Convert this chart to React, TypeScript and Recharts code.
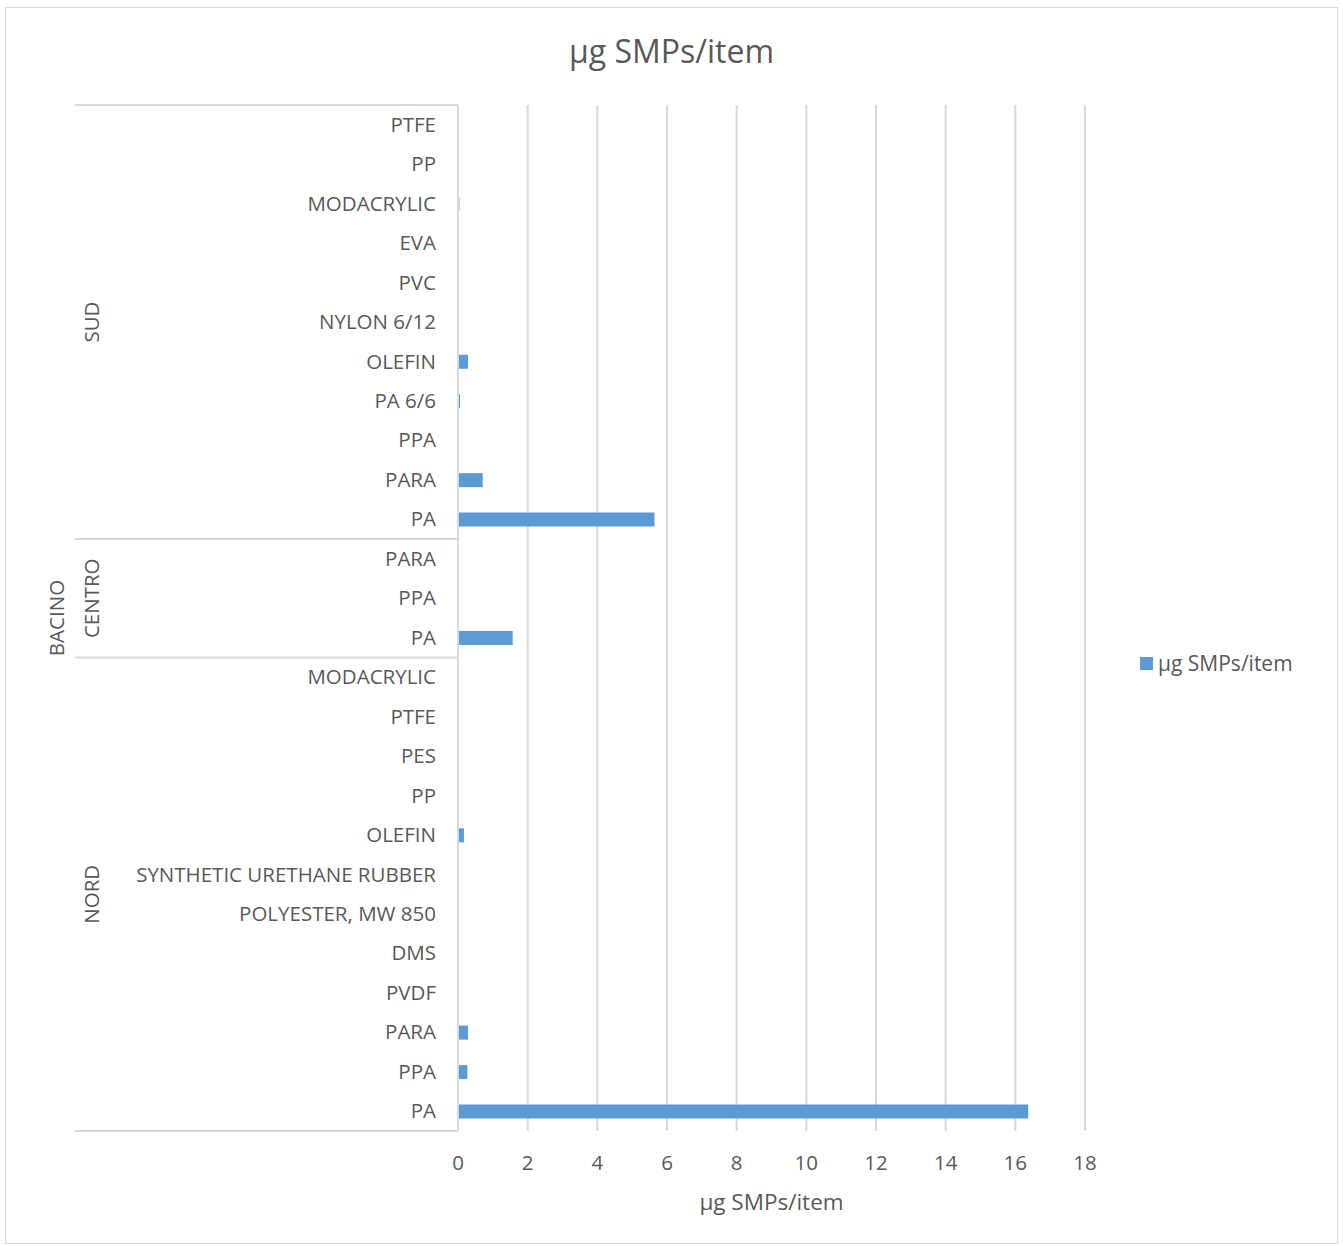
import { BarChart, Bar, XAxis, YAxis, CartesianGrid } from 'recharts';

const SERIES_NAME = 'µg SMPs/item';

const GROUP_NAMES = ['SUD', 'CENTRO', 'NORD'];

const SUD_POLYMERS = ['PTFE', 'PP', 'MODACRYLIC', 'EVA', 'PVC', 'NYLON 6/12', 'OLEFIN', 'PA 6/6', 'PPA', 'PARA', 'PA'];
const SUD_VALUES = [0, 0, 0.04, 0, 0.02, 0, 0.29, 0.06, 0.02, 0.71, 5.64];

const CENTRO_POLYMERS = ['PARA', 'PPA', 'PA'];
const CENTRO_VALUES = [0, 0, 1.57];

const NORD_POLYMERS = [
    'MODACRYLIC',
    'PTFE',
    'PES',
    'PP',
    'OLEFIN',
    'SYNTHETIC URETHANE RUBBER',
    'POLYESTER, MW 850',
    'DMS',
    'PVDF',
    'PARA',
    'PPA',
    'PA',
];
const NORD_VALUES = [0, 0.01, 0.02, 0, 0.17, 0, 0, 0, 0, 0.29, 0.27, 16.37];

const X_TICKS = [0, 2, 4, 6, 8, 10, 12, 14, 16, 18];

type Row = { key: string; group: string; polymer: string; value: number };

const groups = [
    { name: GROUP_NAMES[0], polymers: SUD_POLYMERS, values: SUD_VALUES },
    { name: GROUP_NAMES[1], polymers: CENTRO_POLYMERS, values: CENTRO_VALUES },
    { name: GROUP_NAMES[2], polymers: NORD_POLYMERS, values: NORD_VALUES },
];

const rows: Row[] = groups.flatMap((g) =>
    g.polymers.map((p, i) => ({ key: `${g.name}|${p}`, group: g.name, polymer: p, value: g.values[i] })),
);

// start index and size of each group, used to place separators and group labels
const groupSpans = groups.map((g, gi) => ({
    name: g.name,
    start: groups.slice(0, gi).reduce((s, x) => s + x.polymers.length, 0),
    size: g.polymers.length,
}));

const FONT = '"Open Sans", sans-serif';
const TEXT = '#595959';
const LINE = '#d9d9d9';
const BAR = '#5b9bd5';
const LABEL_SIZE = 20.5;

const W = 1331;
const H = 1235;
const PLOT_LEFT = 452;
const PLOT_TOP = 97;
const PLOT_RIGHT = 1079;
const PLOT_BOTTOM = 1123;
const ROW_H = (PLOT_BOTTOM - PLOT_TOP) / rows.length;

function CategoryTick(props: any) {
    const { y, payload, index } = props;
    const row = rows[index] ?? rows.find((r) => r.key === payload.value);
    const parts: any[] = [];
    parts.push(
        <text key="t" x={PLOT_LEFT - 22} y={y} dy={7} textAnchor="end" fill={TEXT} fontSize={LABEL_SIZE} fontFamily={FONT}>
            {row?.polymer}
        </text>,
    );
    const span = groupSpans.find((s) => s.start === index);
    if (span) {
        parts.push(<line key="l" x1={69} x2={PLOT_LEFT} y1={y - ROW_H / 2} y2={y - ROW_H / 2} stroke={LINE} strokeWidth={2} />);
        const cy = y - ROW_H / 2 + (span.size * ROW_H) / 2;
        parts.push(
            <text
                key="g"
                x={86}
                y={cy}
                dy={7}
                transform={`rotate(-90 86 ${cy})`}
                textAnchor="middle"
                fill={TEXT}
                fontSize={LABEL_SIZE}
                fontFamily={FONT}
            >
                {span.name}
            </text>,
        );
    }
    if (index === rows.length - 1) {
        parts.push(<line key="b" x1={69} x2={PLOT_LEFT} y1={y + ROW_H / 2} y2={y + ROW_H / 2} stroke={LINE} strokeWidth={2} />);
    }
    if (index === 0) {
        const cy = (PLOT_TOP + PLOT_BOTTOM) / 2;
        parts.push(
            <text
                key="o"
                x={51}
                y={cy}
                dy={7}
                transform={`rotate(-90 51 ${cy})`}
                textAnchor="middle"
                fill={TEXT}
                fontSize={LABEL_SIZE}
                fontFamily={FONT}
            >
                BACINO
            </text>,
        );
    }
    return <g>{parts}</g>;
}

function ValueTick(props: any) {
    const { x, payload } = props;
    return (
        <text x={x} y={PLOT_BOTTOM + 39} textAnchor="middle" fill={TEXT} fontSize={LABEL_SIZE} fontFamily={FONT}>
            {payload.value}
        </text>
    );
}

export default function App() {
    return (
        <div
            style={{
                position: 'absolute',
                left: 5,
                top: 7,
                width: W,
                height: H,
                border: `1px solid ${LINE}`,
                background: '#fff',
                fontFamily: FONT,
            }}
        >
            <div
                style={{
                    position: 'absolute',
                    left: 0,
                    width: W,
                    top: 23,
                    textAlign: 'center',
                    fontSize: 32,
                    color: TEXT,
                    lineHeight: '40px',
                }}
            >
                {SERIES_NAME}
            </div>
            <BarChart
                width={W}
                height={H}
                data={rows}
                layout="vertical"
                barCategoryGap={0}
                margin={{ top: PLOT_TOP, right: W - PLOT_RIGHT, bottom: 0, left: 0 }}
            >
                <CartesianGrid horizontal={false} vertical stroke={LINE} strokeWidth={2} />
                <XAxis
                    type="number"
                    domain={[0, 18]}
                    ticks={X_TICKS}
                    interval={0}
                    axisLine={false}
                    tickLine={false}
                    height={H - PLOT_BOTTOM}
                    tick={<ValueTick />}
                />
                <YAxis
                    type="category"
                    dataKey="key"
                    width={PLOT_LEFT}
                    interval={0}
                    axisLine={{ stroke: LINE, strokeWidth: 2 }}
                    tickLine={false}
                    tick={<CategoryTick />}
                />
                <Bar dataKey="value" name={SERIES_NAME} fill={BAR} barSize={14} isAnimationActive={false} />
            </BarChart>
            <div
                style={{
                    position: 'absolute',
                    left: PLOT_LEFT,
                    width: PLOT_RIGHT - PLOT_LEFT,
                    top: 1179,
                    textAlign: 'center',
                    fontSize: 22.5,
                    color: TEXT,
                    lineHeight: '30px',
                }}
            >
                {SERIES_NAME}
            </div>
            <div
                style={{
                    position: 'absolute',
                    left: 1134,
                    top: 641,
                    display: 'flex',
                    alignItems: 'center',
                    fontSize: 21,
                    color: TEXT,
                    lineHeight: '28px',
                }}
            >
                <span style={{ display: 'inline-block', width: 13, height: 13, background: BAR, marginRight: 5 }} />
                {SERIES_NAME}
            </div>
        </div>
    );
}
